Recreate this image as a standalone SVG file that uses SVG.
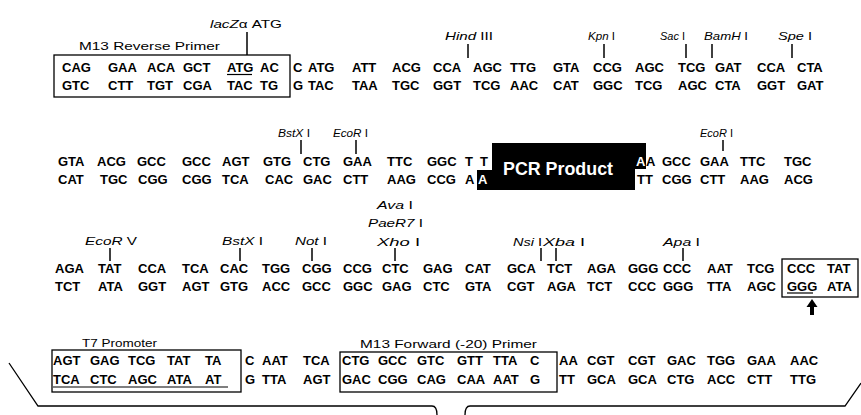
<svg xmlns="http://www.w3.org/2000/svg" width="861" height="415" viewBox="0 0 861 415">
<style>
.s{font-family:"Liberation Sans",Arial,sans-serif;font-weight:bold;font-size:13px;fill:#000}
.l{font-family:"Liberation Sans",Arial,sans-serif;font-size:11.5px;fill:#000}
.i{font-style:italic}
.w{fill:#fff}
.t{stroke:#000;stroke-width:1.5;fill:none}
.b{stroke:#000;stroke-width:1.3;fill:none}
.u{stroke:#000;stroke-width:1.2}
</style>
<rect width="861" height="415" fill="#fff"/>
<g id="row1">
<text class="s" y="72"><tspan x="62">CAG</tspan> <tspan x="108">GAA</tspan> <tspan x="147">ACA</tspan> <tspan x="183">GCT</tspan> <tspan x="227">ATG</tspan> <tspan x="260">AC</tspan> <tspan x="293">C</tspan> <tspan x="308">ATG</tspan> <tspan x="352">ATT</tspan> <tspan x="392">ACG</tspan> <tspan x="433">CCA</tspan> <tspan x="473">AGC</tspan> <tspan x="510">TTG</tspan> <tspan x="553">GTA</tspan> <tspan x="593">CCG</tspan> <tspan x="635">AGC</tspan> <tspan x="678">TCG</tspan> <tspan x="715">GAT</tspan> <tspan x="757">CCA</tspan> <tspan x="797">CTA</tspan></text>
<text class="s" y="90"><tspan x="62">GTC</tspan> <tspan x="108">CTT</tspan> <tspan x="147">TGT</tspan> <tspan x="183">CGA</tspan> <tspan x="227">TAC</tspan> <tspan x="260">TG</tspan> <tspan x="293">G</tspan> <tspan x="308">TAC</tspan> <tspan x="352">TAA</tspan> <tspan x="392">TGC</tspan> <tspan x="433">GGT</tspan> <tspan x="473">TCG</tspan> <tspan x="510">AAC</tspan> <tspan x="553">CAT</tspan> <tspan x="593">GGC</tspan> <tspan x="635">TCG</tspan> <tspan x="678">AGC</tspan> <tspan x="715">CTA</tspan> <tspan x="757">GGT</tspan> <tspan x="797">GAT</tspan></text>
</g>
<g id="m13-reverse-primer">
<rect class="b" x="54" y="55" width="236" height="42"/>
<text class="l" x="79" y="50" textLength="141" lengthAdjust="spacingAndGlyphs">M13 Reverse Primer</text>
<line class="u" x1="227" y1="74.5" x2="252" y2="74.5"/>
</g>
<g id="lacZ-ATG"><text class="l" x="210" y="28" textLength="72" lengthAdjust="spacingAndGlyphs"><tspan class="i">lacZ</tspan>α ATG</text></g>
<g id="HindIII"><text class="l" x="445" y="40" textLength="48" lengthAdjust="spacingAndGlyphs"><tspan class="i">Hind</tspan> III</text></g>
<g id="KpnI"><text class="l" x="588" y="40" textLength="27" lengthAdjust="spacingAndGlyphs"><tspan class="i">Kpn</tspan> I</text></g>
<g id="SacI"><text class="l" x="660" y="40" textLength="25" lengthAdjust="spacingAndGlyphs"><tspan class="i">Sac</tspan> I</text></g>
<g id="BamHI"><text class="l" x="704" y="40" textLength="44" lengthAdjust="spacingAndGlyphs"><tspan class="i">BamH</tspan> I</text></g>
<g id="SpeI"><text class="l" x="778" y="40" textLength="34" lengthAdjust="spacingAndGlyphs"><tspan class="i">Spe</tspan> I</text></g>
<g id="row2">
<text class="s" y="166"><tspan x="58">GTA</tspan> <tspan x="97">ACG</tspan> <tspan x="137">GCC</tspan> <tspan x="182">GCC</tspan> <tspan x="222">AGT</tspan> <tspan x="263">GTG</tspan> <tspan x="303">CTG</tspan> <tspan x="343">GAA</tspan> <tspan x="387">TTC</tspan> <tspan x="427">GGC</tspan> <tspan x="465">T</tspan> <tspan x="480">T</tspan> <tspan x="646">A</tspan> <tspan x="662">GCC</tspan> <tspan x="700">GAA</tspan> <tspan x="740">TTC</tspan> <tspan x="784">TGC</tspan></text>
<text class="s" y="184"><tspan x="58">CAT</tspan> <tspan x="100">TGC</tspan> <tspan x="138">CGG</tspan> <tspan x="182">CGG</tspan> <tspan x="222">TCA</tspan> <tspan x="265">CAC</tspan> <tspan x="303">GAC</tspan> <tspan x="343">CTT</tspan> <tspan x="387">AAG</tspan> <tspan x="427">CCG</tspan> <tspan x="465">A</tspan> <tspan x="637">TT</tspan> <tspan x="662">CGG</tspan> <tspan x="700">CTT</tspan> <tspan x="740">AAG</tspan> <tspan x="784">ACG</tspan></text>
</g>
<g id="pcr-product">
<path d="M492,143 H646 V169 H635 V190 H477 V170 H492 Z" fill="#000"/>
<text class="s w" x="636" y="166">A</text>
<text class="s w" x="478" y="184">A</text>
<text x="503" y="175" style="font-family:'Liberation Sans',Arial,sans-serif;font-weight:bold;font-size:18px;fill:#fff" textLength="110" lengthAdjust="spacingAndGlyphs">PCR Product</text>
</g>
<g id="BstXI-1"><text class="l" x="278" y="137" textLength="32" lengthAdjust="spacingAndGlyphs"><tspan class="i">BstX</tspan> I</text></g>
<g id="EcoRI-1"><text class="l" x="333" y="137" textLength="35" lengthAdjust="spacingAndGlyphs"><tspan class="i">EcoR</tspan> I</text></g>
<g id="EcoRI-2"><text class="l" x="700" y="137" textLength="33" lengthAdjust="spacingAndGlyphs"><tspan class="i">EcoR</tspan> I</text></g>
<g id="row3">
<text class="s" y="273"><tspan x="55">AGA</tspan> <tspan x="98">TAT</tspan> <tspan x="138">CCA</tspan> <tspan x="182">TCA</tspan> <tspan x="220">CAC</tspan> <tspan x="262">TGG</tspan> <tspan x="302">CGG</tspan> <tspan x="343">CCG</tspan> <tspan x="382">CTC</tspan> <tspan x="423">GAG</tspan> <tspan x="465">CAT</tspan> <tspan x="507">GCA</tspan> <tspan x="547">TCT</tspan> <tspan x="587">AGA</tspan> <tspan x="628">GGG</tspan> <tspan x="663">CCC</tspan> <tspan x="707">AAT</tspan> <tspan x="747">TCG</tspan> <tspan x="787">CCC</tspan> <tspan x="827">TAT</tspan></text>
<text class="s" y="291"><tspan x="55">TCT</tspan> <tspan x="98">ATA</tspan> <tspan x="138">GGT</tspan> <tspan x="182">AGT</tspan> <tspan x="220">GTG</tspan> <tspan x="262">ACC</tspan> <tspan x="302">GCC</tspan> <tspan x="343">GGC</tspan> <tspan x="382">GAG</tspan> <tspan x="423">CTC</tspan> <tspan x="465">GTA</tspan> <tspan x="507">CGT</tspan> <tspan x="547">AGA</tspan> <tspan x="587">TCT</tspan> <tspan x="628">CCC</tspan> <tspan x="663">GGG</tspan> <tspan x="707">TTA</tspan> <tspan x="747">AGC</tspan> <tspan x="787">GGG</tspan> <tspan x="827">ATA</tspan></text>
</g>
<g id="EcoRV"><text class="l" x="85" y="245" textLength="52" lengthAdjust="spacingAndGlyphs"><tspan class="i">EcoR</tspan> V</text></g>
<g id="BstXI-2"><text class="l" x="222" y="245" textLength="41" lengthAdjust="spacingAndGlyphs"><tspan class="i">BstX</tspan> I</text></g>
<g id="NotI"><text class="l" x="295" y="245" textLength="32" lengthAdjust="spacingAndGlyphs"><tspan class="i">Not</tspan> I</text></g>
<g id="AvaI-PaeR7I-XhoI">
<text class="l" x="377" y="209" textLength="36" lengthAdjust="spacingAndGlyphs"><tspan class="i">Ava</tspan> I</text>
<text class="l" x="368" y="227" textLength="55" lengthAdjust="spacingAndGlyphs"><tspan class="i">PaeR7</tspan> I</text>
<text class="l" x="377" y="246" textLength="43" lengthAdjust="spacingAndGlyphs"><tspan class="i">Xho</tspan> I</text>
</g>
<g id="NsiI"><text class="l" x="513" y="246" textLength="29" lengthAdjust="spacingAndGlyphs"><tspan class="i">Nsi</tspan> I</text></g>
<g id="XbaI"><text class="l" x="543" y="246" textLength="42" lengthAdjust="spacingAndGlyphs"><tspan class="i">Xba</tspan> I</text></g>
<g id="ApaI"><text class="l" x="663" y="246" textLength="37" lengthAdjust="spacingAndGlyphs"><tspan class="i">Apa</tspan> I</text></g>
<g id="end-box">
<rect class="b" x="782" y="259" width="76" height="38"/>
<line class="u" x1="787" y1="293" x2="813" y2="293"/>
<path d="M812,299 L817.5,307 H814 V315 H810 V307 H806.5 Z" fill="#000"/>
</g>
<g id="row4">
<text class="s" y="365"><tspan x="53">AGT</tspan> <tspan x="90">GAG</tspan> <tspan x="128">TCG</tspan> <tspan x="167">TAT</tspan> <tspan x="205">TA</tspan> <tspan x="245">C</tspan> <tspan x="262">AAT</tspan> <tspan x="303">TCA</tspan> <tspan x="342">CTG</tspan> <tspan x="378">GCC</tspan> <tspan x="417">GTC</tspan> <tspan x="457">GTT</tspan> <tspan x="493">TTA</tspan> <tspan x="530">C</tspan> <tspan x="559">AA</tspan> <tspan x="587">CGT</tspan> <tspan x="628">CGT</tspan> <tspan x="667">GAC</tspan> <tspan x="707">TGG</tspan> <tspan x="747">GAA</tspan> <tspan x="790">AAC</tspan></text>
<text class="s" y="384"><tspan x="53">TCA</tspan> <tspan x="90">CTC</tspan> <tspan x="128">AGC</tspan> <tspan x="167">ATA</tspan> <tspan x="205">AT</tspan> <tspan x="245">G</tspan> <tspan x="262">TTA</tspan> <tspan x="303">AGT</tspan> <tspan x="342">GAC</tspan> <tspan x="378">CGG</tspan> <tspan x="417">CAG</tspan> <tspan x="457">CAA</tspan> <tspan x="493">AAT</tspan> <tspan x="530">G</tspan> <tspan x="559">TT</tspan> <tspan x="587">GCA</tspan> <tspan x="628">GCA</tspan> <tspan x="667">CTG</tspan> <tspan x="707">ACC</tspan> <tspan x="747">CTT</tspan> <tspan x="790">TTG</tspan></text>
</g>
<g id="t7-promoter">
<rect class="b" x="52" y="350" width="189" height="42"/>
<line class="u" x1="53" y1="387" x2="228" y2="387"/>
<text class="l" x="82" y="347" textLength="75" lengthAdjust="spacingAndGlyphs">T7 Promoter</text>
</g>
<g id="m13-forward-primer">
<rect class="b" x="340" y="352" width="217" height="40"/>
<text class="l" x="360" y="348" textLength="177" lengthAdjust="spacingAndGlyphs">M13 Forward (-20) Primer</text>
</g>
<g id="connectors">
<line class="t" x1="247" y1="32" x2="247" y2="55"/>
<line class="t" x1="468" y1="44" x2="468" y2="58"/>
<line class="t" x1="604" y1="44" x2="604" y2="58"/>
<line class="t" x1="686" y1="44" x2="686" y2="58"/>
<line class="t" x1="712" y1="44" x2="712" y2="58"/>
<line class="t" x1="792" y1="44" x2="792" y2="58"/>
<line class="t" x1="301" y1="140" x2="301" y2="154"/>
<line class="t" x1="356" y1="140" x2="356" y2="154"/>
<line class="t" x1="723" y1="140" x2="723" y2="151"/>
<line class="t" x1="110" y1="248" x2="110" y2="261"/>
<line class="t" x1="240" y1="248" x2="240" y2="261"/>
<line class="t" x1="312" y1="248" x2="312" y2="261"/>
<line class="t" x1="395" y1="248" x2="395" y2="261"/>
<line class="t" x1="541" y1="248" x2="541" y2="261"/>
<line class="t" x1="556" y1="248" x2="556" y2="261"/>
<line class="t" x1="683" y1="248" x2="683" y2="261"/>
<path class="b" d="M9,363 L38,406 H432 Q437,406 437,415"/>
<path class="b" d="M465,415 Q465,406 470,406 H845 L861,383"/>
</g>
</svg>
